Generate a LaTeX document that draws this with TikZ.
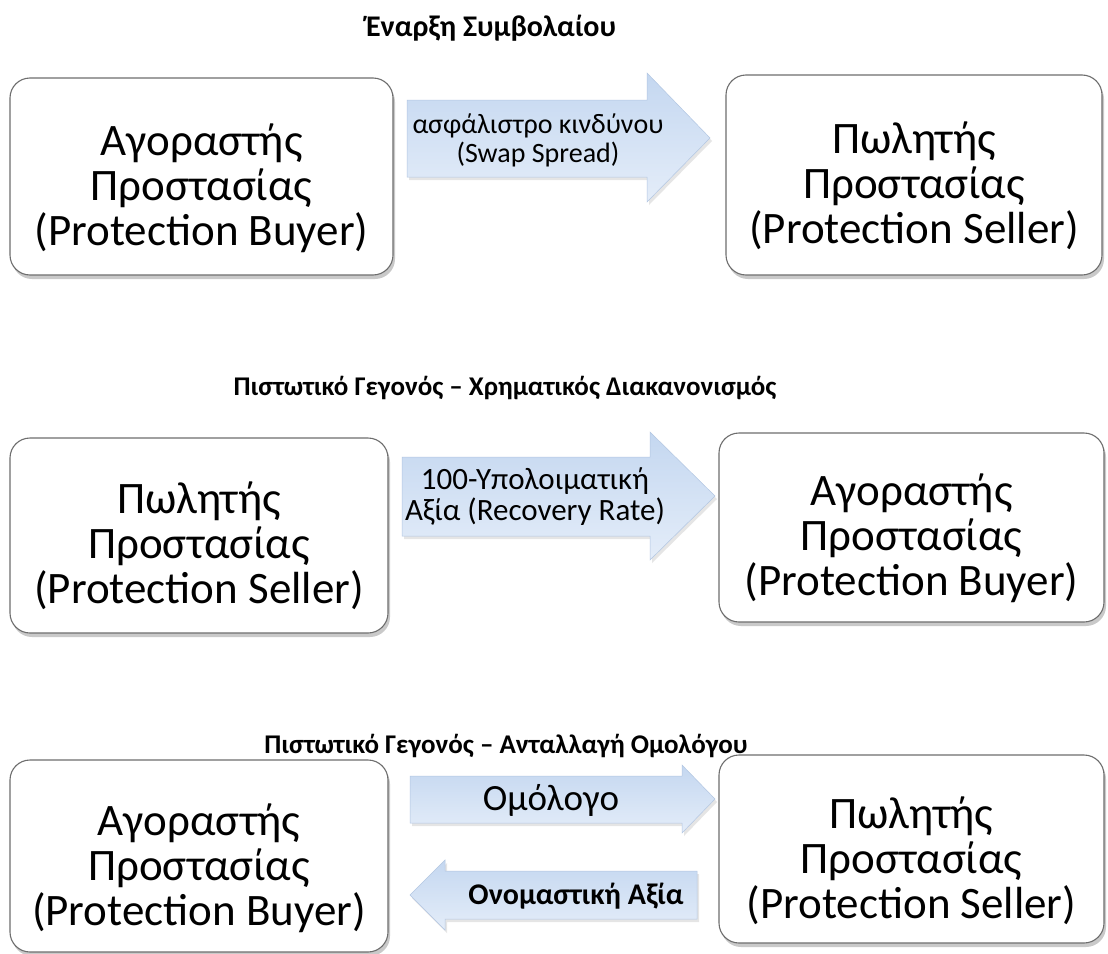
\documentclass[tikz,border=0pt]{standalone}
\usepackage{fontspec}
\setmainfont{Carlito}
\usetikzlibrary{shadows}
\definecolor{boxline}{RGB}{110,110,110}
\definecolor{arrtop}{RGB}{196,215,240}
\definecolor{arrbot}{RGB}{228,237,249}
\definecolor{arrline}{RGB}{178,198,226}
\tikzset{
  party/.style={draw=boxline, line width=1.1pt, fill=white, rounded corners=20pt,
    drop shadow={shadow xshift=2pt, shadow yshift=-4pt, opacity=0.35, fill=black!60}},
  partytext/.style={align=center, font=\fontsize{45}{45}\selectfont, inner sep=0pt},
  blockarrow/.style={draw=arrline, line width=0.5pt, top color=arrtop, bottom color=arrbot,
    drop shadow={shadow xshift=2pt, shadow yshift=-3pt, opacity=0.2, fill=black!50}},
  arrtext/.style={align=center, inner sep=0pt},
  heading/.style={font=\fontsize{27}{30}\bfseries\selectfont, inner sep=0pt}
}
\begin{document}
\begin{tikzpicture}[x=1pt,y=-1pt]
\useasboundingbox (0,0) rectangle (1108,953);
\fill[white] (0,0) rectangle (1108,953);

% headings
\node[heading, font=\fontsize{30}{33}\bfseries\selectfont] (h1) at (491,28) {Έναρξη Συμβολαίου};
\node[heading] (h2) at (505,388) {Πιστωτικό Γεγονός – Χρηματικός Διακανονισμός};
\node[heading] (h3) at (506,746) {Πιστωτικό Γεγονός – Ανταλλαγή Ομολόγου};

% row 1
\draw[party] (10,78) rectangle (393,275);
\node[partytext] (b1) at (201.5,188) {Αγοραστής\\Προστασίας\\(Protection Buyer)};
\draw[party] (726,75) rectangle (1102,275);
\node[partytext] (s1) at (914,186) {Πωλητής\\Προστασίας\\(Protection Seller)};
\draw[blockarrow] (407,100) -- (647,100) -- (647,73) -- (710,138) -- (647,202) -- (647,177) -- (407,177) -- cycle;
\node[arrtext, font=\fontsize{28}{29}\selectfont] (a1) at (538,140) {ασφάλιστρο κινδύνου\\(Swap Spread)};

% row 2
\draw[party] (10,438) rectangle (388,633);
\node[partytext] (s2) at (199,546) {Πωλητής\\Προστασίας\\(Protection Seller)};
\draw[party] (719,433) rectangle (1104,622);
\node[partytext] (b2) at (911.5,538) {Αγοραστής\\Προστασίας\\(Protection Buyer)};
\draw[blockarrow] (402,457) -- (650,457) -- (650,432) -- (715,496) -- (650,560) -- (650,536) -- (402,536) -- cycle;
\node[arrtext, font=\fontsize{31}{31}\selectfont] (a2) at (535,497) {100-Υπολοιματική\\Αξία (Recovery Rate)};

% row 3
\draw[party] (10,760) rectangle (388,952);
\node[partytext] (b3) at (199,868) {Αγοραστής\\Προστασίας\\(Protection Buyer)};
\draw[party] (719,755) rectangle (1104,943);
\node[partytext] (s3) at (911.5,861) {Πωλητής\\Προστασίας\\(Protection Seller)};
\draw[blockarrow] (410,776) -- (682,776) -- (682,765) -- (715,799) -- (682,833) -- (682,823) -- (410,823) -- cycle;
\node[arrtext, font=\fontsize{37}{38}\selectfont] (a3) at (551,800) {Ομόλογο};
\draw[blockarrow] (697,871) -- (445,871) -- (445,860) -- (410,895) -- (445,930) -- (445,919) -- (697,919) -- cycle;
\node[arrtext, font=\fontsize{30}{32}\bfseries\selectfont] (a4) at (576,896) {Ονομαστική Αξία};
\end{tikzpicture}
\end{document}
